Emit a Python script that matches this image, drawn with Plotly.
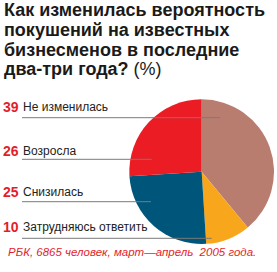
import plotly.graph_objects as go

# Data
categories = ["Не изменилась", "Затрудняюсь ответить", "Снизилась", "Возросла"]
values = [39, 10, 25, 26]
colors = ["#B97D70", "#F8A61C", "#00557B", "#EC1C24"]

# legend rows (top to bottom)
legend_labels = ["Не изменилась", "Возросла", "Снизилась", "Затрудняюсь ответить"]
legend_values = [39, 26, 25, 10]

title_lines = ["<b>Как изменилась вероятность</b>",
               "<b>покушений на известных</b>",
               "<b>бизнесменов в последние</b>",
               "<b>два-три года?</b> (%)"]
footer = "РБК, 6865 человек, март—апрель  2005 года."

W, H = 277, 272
def px(x): return x / W
def py(y): return 1 - y / H

fig = go.Figure()
fig.add_trace(go.Pie(
    labels=categories, values=values,
    marker=dict(colors=colors, line=dict(width=0)),
    sort=False, direction="clockwise", rotation=0,
    textinfo="none", hoverinfo="label+value",
    domain=dict(x=[px(129.3), px(274)], y=[py(244), py(99.3)]),
    showlegend=False,
))

annotations = []
title_mid = [10.3, 30.0, 49.7, 69.4]
for line, ym in zip(title_lines, title_mid):
    annotations.append(dict(
        text=line, x=px(2), y=py(ym), xref="paper", yref="paper",
        xanchor="left", yanchor="middle", showarrow=False,
        font=dict(family="Liberation Sans, Arial, sans-serif", size=18, color="#1a1a1a")))

row_mid = [107.3, 151.0, 192.3, 227.3]
line_y = [117.7, 159.3, 201.7, 238.3]
line_end = [220, 151.7, 151, 211.7]
shapes = []
for lab, val, ym, ly, le in zip(legend_labels, legend_values, row_mid, line_y, line_end):
    annotations.append(dict(
        text="<b>%d</b>" % val, x=px(0.5), y=py(ym), xref="paper", yref="paper",
        xanchor="left", yanchor="middle", showarrow=False,
        font=dict(family="Liberation Sans, Arial, sans-serif", size=14, color="#E31E2A")))
    annotations.append(dict(
        text=lab, x=px(21), y=py(ym), xref="paper", yref="paper",
        xanchor="left", yanchor="middle", showarrow=False,
        font=dict(family="Liberation Sans, Arial, sans-serif", size=12, color="#222222")))
    shapes.append(dict(type="line", xref="paper", yref="paper",
                       x0=px(22), x1=px(le), y0=py(ly), y1=py(ly),
                       line=dict(color="#7a7a7a", width=1)))

annotations.append(dict(
    text="<i>" + footer + "</i>", x=px(6), y=py(251.7), xref="paper", yref="paper",
    xanchor="left", yanchor="middle", showarrow=False,
    font=dict(family="Liberation Sans, Arial, sans-serif", size=11.5, color="#E31E2A")))

fig.update_layout(
    width=W, height=H, margin=dict(l=0, r=0, t=0, b=0),
    paper_bgcolor="white", plot_bgcolor="white",
    annotations=annotations, shapes=shapes,
)
fig.write_html("out.html")
